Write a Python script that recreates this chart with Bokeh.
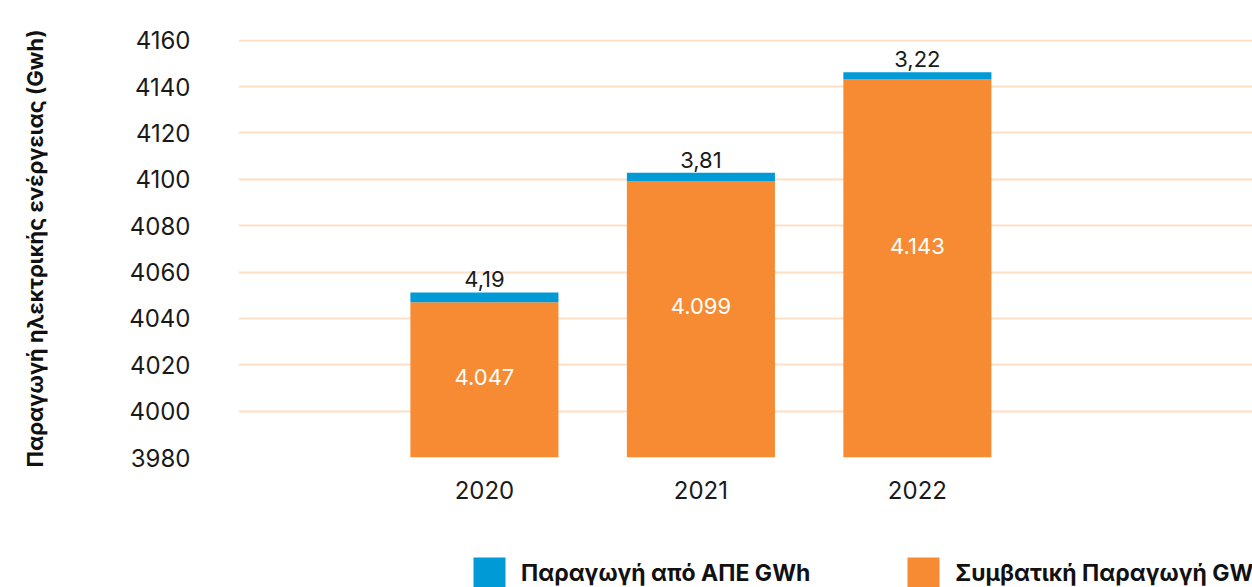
from bokeh.plotting import figure
from bokeh.models import Range1d, Legend, LegendItem
from bokeh.layouts import column
from bokeh.embed import file_html
from bokeh.resources import INLINE
from bokeh.core.properties import value

# ---- data ----
years = [2020, 2021, 2022]
conventional = [4047, 4099, 4143]          # Συμβατική Παραγωγή GWh
renewable = [4.19, 3.81, 3.22]             # Παραγωγή από ΑΠΕ GWh
y_ticks = [3980, 4000, 4020, 4040, 4060, 4080, 4100, 4120, 4140, 4160]
y_title = "Παραγωγή ηλεκτρικής ενέργειας (Gwh)"
label_res = "Παραγωγή από ΑΠΕ GWh"
label_conv = "Συμβατική Παραγωγή GWh"

ORANGE = "#F68B33"
BLUE = "#009BD7"
GRID = "#FDDFC6"
FONT = "Inter"

y_min, y_max = y_ticks[0], y_ticks[-1]

p = figure(width=1252, height=545,
           x_range=Range1d(2018.864, 2023.548),
           y_range=Range1d(y_min, y_max + 0.3),
           output_backend="svg", toolbar_location=None,
           min_border_left=238, min_border_right=0,
           min_border_top=39, min_border_bottom=88)
p.outline_line_color = None

data = dict(year=years, conv=conventional, res=renewable)
p.vbar_stack(["conv", "res"], x="year", width=0.684, source=data,
             color=[ORANGE, BLUE], line_width=0)

# value labels
totals = [c + r for c, r in zip(conventional, renewable)]
res_txt = [f"{v:.2f}".replace(".", ",") for v in renewable]
conv_txt = [f"{v:,}".replace(",", ".") for v in conventional]
mids = [v - 0.41 * (v - y_min) for v in conventional]

p.text(x=years, y=totals, text=res_txt, text_align="center",
       text_baseline="alphabetic", y_offset=-13,
       text_font=value(FONT), text_font_size="22px", text_color="#1a1a1a")
p.text(x=years, y=mids, text=conv_txt, text_align="center",
       text_baseline="middle", y_offset=11,
       text_font=value(FONT), text_font_size="22px", text_color="white")

# grid
p.xgrid.visible = False
p.ygrid.grid_line_color = GRID
p.ygrid.grid_line_width = 2

# axes
p.yaxis.ticker = y_ticks
p.xaxis.ticker = years
for ax in (p.xaxis, p.yaxis):
    ax.axis_line_color = None
    ax.major_tick_line_color = None
    ax.minor_tick_line_color = None
    ax.major_label_text_font = FONT
    ax.major_label_text_font_size = "24px"
    ax.major_label_text_color = "#1a1a1a"
p.yaxis.major_label_standoff = 42
p.xaxis.major_label_standoff = 17
p.yaxis.axis_label = y_title
p.yaxis.axis_label_text_font = FONT
p.yaxis.axis_label_text_font_style = "bold"
p.yaxis.axis_label_text_font_size = "22px"
p.yaxis.axis_label_text_color = "#111111"
p.yaxis.axis_label_standoff = 78

# legend strip below the chart (its frame is aligned with the chart's frame)
p2 = figure(width=1252, height=42, x_range=Range1d(0, 1), y_range=Range1d(0, 1),
            output_backend="svg", toolbar_location=None,
            x_axis_location=None, y_axis_location=None,
            min_border_left=0, min_border_right=0,
            min_border_top=0, min_border_bottom=0)
p2.outline_line_color = None
p2.xgrid.visible = False
p2.ygrid.visible = False
# legend swatch renderers, kept outside the visible range
k_res = p2.vbar(x=[5], top=[5], bottom=[4], width=0.1, color=BLUE, line_width=0)
k_conv = p2.vbar(x=[5], top=[5], bottom=[4], width=0.1, color=ORANGE, line_width=0)

legend = Legend(items=[LegendItem(label=label_res, renderers=[k_res]),
                       LegendItem(label=label_conv, renderers=[k_conv])],
                location=(231, -6), orientation="horizontal",
                glyph_width=40, glyph_height=40, label_standoff=12,
                spacing=93,
                label_text_font=FONT, label_text_font_style="bold",
                label_text_font_size="23px", label_text_color="#111111",
                padding=0, margin=0, border_line_color=None,
                background_fill_alpha=0)
p2.add_layout(legend)

layout = column(p, p2, spacing=0)
open("out.html", "w").write(file_html(layout, INLINE))
